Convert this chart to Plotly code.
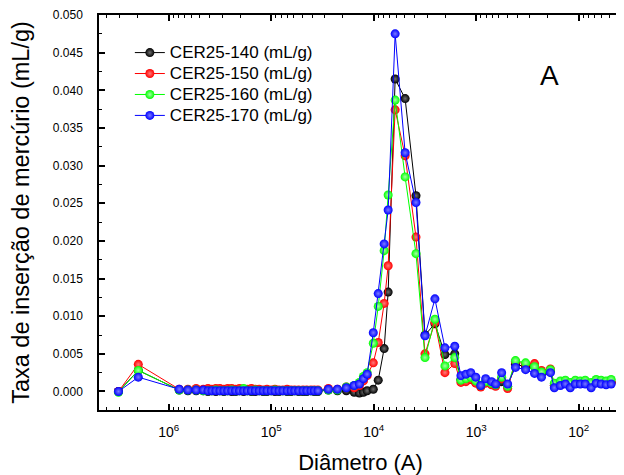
import plotly.graph_objects as go

# diâmetro (A) – pontos comuns às quatro amostras
diametro = [
    3.09e6, 1.98e6, 7.9e5, 6.5e5, 5.4e5, 4.6e5,
    4.14e5, 3.79e5, 3.47e5, 3.17e5, 2.90e5, 2.66e5, 2.43e5, 2.23e5, 2.04e5, 1.86e5,
    1.71e5, 1.56e5, 1.43e5, 1.31e5, 1.20e5, 1.10e5, 1.00e5, 9.2e4, 8.4e4, 7.7e4,
    7.0e4, 6.4e4, 5.9e4, 5.4e4, 4.9e4, 4.5e4, 4.1e4, 3.8e4, 3.5e4,
    2.77e4, 2.26e4, 1.85e4, 1.55e4, 1.38e4, 1.26e4, 1.16e4, 1.01e4, 9.04e3, 7.91e3,
    7.23e3, 6.18e3, 4.94e3, 3.87e3, 3.16e3, 2.53e3, 2.02e3, 1.62e3, 1.41e3, 1.26e3,
    1.13e3, 1.01e3, 904, 809, 708, 647, 565, 494, 414, 330, 270, 231, 189, 173, 151,
    135, 121, 108, 96.6, 86.5, 75.7, 67.6, 60.5, 54.1, 48.3,
]

cer140 = [
    0.0000, 0.0028, 0.0002, 0.0001, 0.0001, 0.0001,
    0.0000, 0.0001, 0.0000, 0.0001, 0.0000, 0.0001, 0.0000, 0.0000, 0.0001, 0.0000,
    0.0001, 0.0000, 0.0000, 0.0001, 0.0000, 0.0000, 0.0001, 0.0000, 0.0000, 0.0001,
    0.0000, 0.0000, 0.0001, 0.0000, 0.0000, 0.0000, 0.0001, 0.0000, 0.0000,
    0.0002, 0.0001, 0.0001, -0.0001, -0.0002, -0.0001, 0.0001, 0.0003, 0.0015, 0.0057,
    0.0132, 0.0415, 0.0389, 0.0260, 0.0075, 0.0090, 0.0049, 0.0050, 0.0016, 0.0014,
    0.0016, 0.0012, 0.0007, 0.0012, 0.0010, 0.0008, 0.0013, 0.0007, 0.0036, 0.0033,
    0.0033, 0.0024, 0.0027, 0.0008, 0.0010, 0.0011, 0.0009, 0.0011, 0.0011, 0.0011,
    0.0008, 0.0012, 0.0012, 0.0011, 0.0012,
]

cer150 = [
    0.0000, 0.0036, 0.0003, 0.0003, 0.0004, 0.0003,
    0.0004, 0.0003, 0.0004, 0.0004, 0.0003, 0.0004, 0.0004, 0.0003, 0.0004, 0.0003,
    0.0003, 0.0004, 0.0003, 0.0003, 0.0002, 0.0003, 0.0002, 0.0003, 0.0002, 0.0002,
    0.0003, 0.0002, 0.0002, 0.0002, 0.0002, 0.0002, 0.0002, 0.0002, 0.0002,
    0.0004, 0.0003, 0.0006, 0.0005, 0.0008, 0.0014, 0.0021, 0.0038, 0.0065, 0.0117,
    0.0167, 0.0374, 0.0313, 0.0205, 0.0050, 0.0092, 0.0025, 0.0037, 0.0012, 0.0013,
    0.0016, 0.0011, 0.0006, 0.0011, 0.0009, 0.0007, 0.0017, 0.0004, 0.0040, 0.0036,
    0.0037, 0.0028, 0.0030, 0.0008, 0.0010, 0.0012, 0.0008, 0.0012, 0.0011, 0.0012,
    0.0007, 0.0013, 0.0012, 0.0011, 0.0012,
]

cer160 = [
    -0.0001, 0.0028, 0.0002, 0.0002, 0.0002, 0.0001,
    0.0001, 0.0001, 0.0002, 0.0001, 0.0001, 0.0001, 0.0002, 0.0001, 0.0001, 0.0004,
    0.0001, 0.0001, 0.0002, 0.0001, 0.0001, 0.0001, 0.0001, 0.0002, 0.0001, 0.0001,
    0.0001, 0.0001, 0.0001, 0.0001, 0.0001, 0.0001, 0.0001, 0.0001, 0.0001,
    0.0002, 0.0002, 0.0006, 0.0008, 0.0012, 0.0020, 0.0025, 0.0064, 0.0113, 0.0187,
    0.0261, 0.0387, 0.0285, 0.0183, 0.0045, 0.0096, 0.0034, 0.0045, 0.0015, 0.0017,
    0.0019, 0.0014, 0.0008, 0.0013, 0.0011, 0.0009, 0.0019, 0.0007, 0.0041, 0.0038,
    0.0033, 0.0026, 0.0029, 0.0011, 0.0014, 0.0015, 0.0012, 0.0015, 0.0014, 0.0015,
    0.0012, 0.0016, 0.0015, 0.0014, 0.0016,
]

cer170 = [
    0.0000, 0.0019, 0.0003, 0.0002, 0.0002, 0.0002,
    0.0001, 0.0001, 0.0001, 0.0001, 0.0001, 0.0001, 0.0001, 0.0001, 0.0001, 0.0001,
    0.0001, 0.0001, 0.0001, 0.0001, 0.0001, 0.0001, 0.0001, 0.0001, 0.0001, 0.0001,
    0.0001, 0.0001, 0.0001, 0.0001, 0.0001, 0.0001, 0.0001, 0.0001, 0.0001,
    0.0003, 0.0003, 0.0005, 0.0008, 0.0010, 0.0017, 0.0023, 0.0078, 0.0130, 0.0196,
    0.0241, 0.0475, 0.0317, 0.0251, 0.0074, 0.0123, 0.0058, 0.0060, 0.0021, 0.0023,
    0.0025, 0.0019, 0.0008, 0.0017, 0.0013, 0.0010, 0.0025, 0.0010, 0.0032, 0.0029,
    0.0024, 0.0019, 0.0025, 0.0005, 0.0008, 0.0010, 0.0005, 0.0010, 0.0010, 0.0010,
    0.0005, 0.0011, 0.0010, 0.0009, 0.0010,
]

series = [
    ("CER25-140 (mL/g)", cer140, "#000000", "#707070"),
    ("CER25-150 (mL/g)", cer150, "#ff0000", "#ff7a7a"),
    ("CER25-160 (mL/g)", cer160, "#00ff00", "#a6ffa6"),
    ("CER25-170 (mL/g)", cer170, "#0000ff", "#7a7aff"),
]

FONT = "Liberation Sans, Arial, sans-serif"

fig = go.Figure()
for nome, vals, cor, brilho in series:
    fig.add_trace(go.Scatter(
        x=diametro, y=vals, mode="lines+markers",
        # texto maior que a fonte da legenda -> linhas mais juntas
        name=f"<span style='font-size:17px'>{nome}</span>",
        line=dict(color=cor, width=1),
        marker=dict(size=9, color=cor, line=dict(width=0),
                    gradient=dict(type="radial", color=brilho)),
    ))

dec = [1e2, 1e3, 1e4, 1e5, 1e6]
minor_x = [m * d for d in [1e1, 1e2, 1e3, 1e4, 1e5, 1e6] for m in range(2, 10)]

fig.add_annotation(text="A", x=0.861, y=0.848, xref="paper", yref="paper",
                   xanchor="center", yanchor="middle", showarrow=False,
                   font=dict(size=28, color="black", family=FONT))

# a página tem margem de 8px no body: figura um pouco menor
fig.update_layout(
    width=616, height=467,
    margin=dict(l=91, r=0, t=7, b=65),
    paper_bgcolor="white", plot_bgcolor="white",
    font=dict(family=FONT, color="black"),
    showlegend=True,
    legend=dict(x=0.059, y=0.944, xanchor="left", yanchor="top",
                bgcolor="rgba(0,0,0,0)", font=dict(size=13.8), tracegroupgap=0),
    xaxis=dict(
        type="log", range=[6.68, 1.578],
        title=dict(text="Diâmetro (A)", font=dict(size=22), standoff=17),
        tickmode="array", tickvals=dec,
        ticktext=["10<sup>2</sup>", "10<sup>3</sup>", "10<sup>4</sup>", "10<sup>5</sup>", "10<sup>6</sup>"],
        tickfont=dict(size=14),
        ticks="inside", ticklen=6, tickwidth=1.5, tickcolor="black",
        showline=True, linewidth=1.5, linecolor="black", mirror="allticks",
        showgrid=False, zeroline=False, ticklabelstandoff=8,
        minor=dict(tickmode="array", tickvals=minor_x, ticks="inside",
                   ticklen=3.5, tickwidth=1, tickcolor="black", showgrid=False),
    ),
    yaxis=dict(
        range=[-0.00246, 0.050],
        title=dict(text="Taxa de inserção de mercúrio (mL/g)", font=dict(size=23.5), standoff=24),
        tick0=0, dtick=0.005, tickformat=".3f", tickfont=dict(size=12),
        ticks="inside", ticklen=6, tickwidth=1.5, tickcolor="black",
        showline=True, linewidth=1.5, linecolor="black", mirror="allticks",
        showgrid=False, zeroline=False, ticklabelstandoff=12,
        minor=dict(dtick=0.0025, ticks="inside", ticklen=3.5, tickwidth=1,
                   tickcolor="black", showgrid=False),
    ),
)

fig.write_html("out.html")
